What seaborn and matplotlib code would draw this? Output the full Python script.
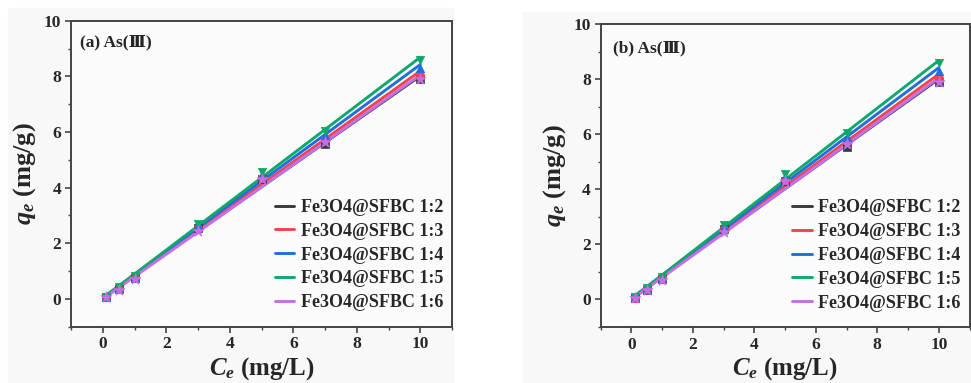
import numpy as np
import pandas as pd
import matplotlib
matplotlib.use("Agg")
import matplotlib.pyplot as plt
from matplotlib.patches import Rectangle
from matplotlib.ticker import MultipleLocator
import seaborn as sns

# ---- data ----
ce = [0.1, 0.5, 1, 3, 5, 7, 10]
series_names = ["Fe3O4@SFBC 1:2", "Fe3O4@SFBC 1:3", "Fe3O4@SFBC 1:4",
                "Fe3O4@SFBC 1:5", "Fe3O4@SFBC 1:6"]
qe_12 = [0.05, 0.36, 0.76, 2.55, 4.30, 5.55, 7.90]
qe_13 = [0.06, 0.37, 0.77, 2.56, 4.35, 5.75, 8.05]
qe_14 = [0.08, 0.40, 0.80, 2.65, 4.45, 5.90, 8.30]
qe_15 = [0.08, 0.41, 0.82, 2.70, 4.55, 6.05, 8.60]
qe_16 = [0.05, 0.33, 0.70, 2.45, 4.30, 5.65, 7.90]
panel_titles = ["(a) As(\u2162)", "(b) As(\u2162)"]

colors = ["#3a3a3a", "#f5424d", "#1f6fe0", "#10a86a", "#c46fe6"]
markers = ["s", "o", "^", "v", "*"]
msizes = [30, 34, 36, 36, 70]
all_q = [qe_12, qe_13, qe_14, qe_15, qe_16]

sns.set_theme(style="ticks")
plt.rcParams["font.family"] = ["Liberation Serif", "DejaVu Serif"]
plt.rcParams["font.weight"] = "bold"
plt.rcParams["mathtext.fontset"] = "custom"
plt.rcParams["mathtext.it"] = "Liberation Serif:italic:bold"
plt.rcParams["mathtext.rm"] = "Liberation Serif:bold"
plt.rcParams["mathtext.bf"] = "Liberation Serif:bold"

fig = plt.figure(figsize=(9.71, 3.83), dpi=100, facecolor="white")
W, H = 971, 383
bg = "#f8f8f8"
fig.patches.append(Rectangle((8 / W, 0), (453 - 8) / W, (383 - 8) / H,
                             transform=fig.transFigure, color=bg, zorder=-10))
fig.patches.append(Rectangle((523 / W, 0), (971 - 523) / W, (383 - 12) / H,
                             transform=fig.transFigure, color=bg, zorder=-10))

axes_px = [(71, 20.7, 452, 326.7), (600.7, 24.3, 969.5, 327)]
label_pos = [(0.024, 0.93), (0.033, 0.92)]

for k, (x0, y0, x1, y1) in enumerate(axes_px):
    ax = fig.add_axes([x0 / W, (H - y1) / H, (x1 - x0) / W, (y1 - y0) / H])
    ax.set_facecolor("#fbfbfb")
    for name, q, c, m, s in zip(series_names, all_q, colors, markers, msizes):
        df = pd.DataFrame({"Ce": ce, "qe": q})
        sns.regplot(data=df, x="Ce", y="qe", ax=ax, scatter=False, ci=None,
                    color=c, line_kws=dict(lw=2.1), label=name, truncate=True)
        sns.scatterplot(data=df, x="Ce", y="qe", ax=ax, marker=m, s=s,
                        color=c, edgecolor=c, linewidth=0.5, legend=False,
                        zorder=3)
    ax.set_xlim(-1, 11)
    ax.set_ylim(-1, 10)
    ax.xaxis.set_major_locator(MultipleLocator(2))
    ax.xaxis.set_minor_locator(MultipleLocator(1))
    ax.yaxis.set_major_locator(MultipleLocator(2))
    ax.yaxis.set_minor_locator(MultipleLocator(1))
    ax.tick_params(which="major", direction="out", length=4, width=1.2,
                   color="#444444", labelsize=12.5, pad=3)
    ax.tick_params(which="minor", direction="out", length=2.5, width=1.0,
                   color="#444444")
    for lab in ax.get_xticklabels() + ax.get_yticklabels():
        lab.set_fontweight("bold")
    for sp in ax.spines.values():
        sp.set_linewidth(1.4)
        sp.set_color("#444444")
    ax.set_xlabel(r"$C_e$ (mg/L)", fontsize=18, fontweight="bold", labelpad=2)
    ax.set_ylabel(r"$q_e$ (mg/g)", fontsize=19, fontweight="bold", labelpad=4)
    ax.text(label_pos[k][0], label_pos[k][1], panel_titles[k],
            transform=ax.transAxes, fontsize=12.5, fontweight="bold",
            ha="left", va="center")
    ax.legend(loc="lower right", bbox_to_anchor=(1.005, 0.015), frameon=False,
              prop=dict(size=13, weight="bold"), handlelength=1.1,
              handletextpad=0.35, labelspacing=0.38, borderaxespad=0.2)

fig.savefig("out.png", dpi=100, facecolor="white")
